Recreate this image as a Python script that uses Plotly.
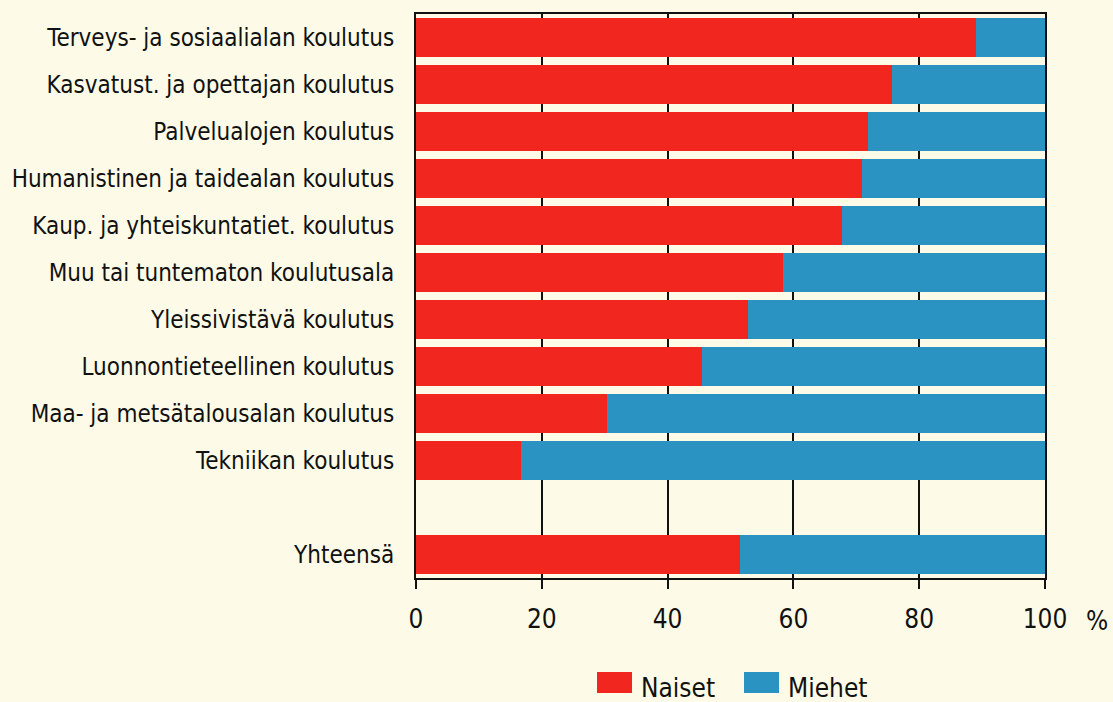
import plotly.graph_objects as go

categories = [
    "Terveys- ja sosiaalialan koulutus",
    "Kasvatust. ja opettajan koulutus",
    "Palvelualojen koulutus",
    "Humanistinen ja taidealan koulutus",
    "Kaup. ja yhteiskuntatiet. koulutus",
    "Muu tai tuntematon koulutusala",
    "Yleissivistävä koulutus",
    "Luonnontieteellinen koulutus",
    "Maa- ja metsätalousalan koulutus",
    "Tekniikan koulutus",
    "",
    "Yhteensä",
]
naiset = [89.0, 75.6, 71.9, 70.9, 67.7, 58.4, 52.8, 45.5, 30.4, 16.7, None, 51.5]
miehet = [None if v is None else round(100 - v, 1) for v in naiset]
x_ticks = [0, 20, 40, 60, 80, 100]

RED = "#f0261f"
BLUE = "#2a93c1"
BG = "#fdfbe7"
FONT = "DejaVu Sans Condensed, DejaVu Sans, sans-serif"

W, H = 1113, 702
L, R, T, B = 416, 68, 14, 124
PW, PH = W - L - R, H - T - B


def px(x):
    return (x - L) / PW


def py(y):
    return (H - B - y) / PH


pos = list(range(len(categories)))

fig = go.Figure()
fig.add_trace(go.Bar(y=pos, x=naiset, orientation="h", name="Naiset",
                     marker=dict(color=RED, line=dict(width=0)), showlegend=False))
fig.add_trace(go.Bar(y=pos, x=miehet, orientation="h", name="Miehet",
                     marker=dict(color=BLUE, line=dict(width=0)), showlegend=False))

fig.update_layout(
    barmode="stack",
    bargap=0.15,
    width=W, height=H,
    margin=dict(l=L, r=R, t=T, b=B),
    paper_bgcolor=BG, plot_bgcolor=BG,
    font=dict(family=FONT, size=24, color="#111111"),
)
fig.update_xaxes(
    range=[0, 100], tickvals=x_ticks, ticktext=[str(t) for t in x_ticks],
    showgrid=True, gridcolor="#111111", gridwidth=2,
    showline=True, linecolor="#111111", linewidth=2, mirror=True,
    ticks="outside", ticklen=9, tickwidth=2, tickcolor="#111111",
    tickfont=dict(size=26), ticklabelstandoff=8, zeroline=False, fixedrange=True,
    automargin=False,
)
fig.update_yaxes(
    range=[len(categories) - 0.5, -0.5], tickvals=pos, ticktext=categories,
    showgrid=False, showline=True, linecolor="#111111", linewidth=2, mirror=True,
    ticks="", ticklabelstandoff=15, zeroline=False, fixedrange=True,
    tickfont=dict(size=24), automargin=False,
)

fig.add_annotation(x=px(1084), y=py(621), xref="paper", yref="paper", text="%",
                   showarrow=False, xanchor="left", yanchor="middle",
                   font=dict(size=26))

# legend drawn as shapes + text
for rx0, rx1, tx, color, label in [(597, 632, 639, RED, "Naiset"),
                                   (744, 779, 786, BLUE, "Miehet")]:
    fig.add_shape(type="rect", xref="paper", yref="paper",
                  x0=px(rx0), x1=px(rx1), y0=py(693), y1=py(672),
                  fillcolor=color, line=dict(width=0))
    fig.add_annotation(x=px(tx), y=py(688), xref="paper", yref="paper",
                       text=label, showarrow=False, xanchor="left", yanchor="middle",
                       font=dict(size=26))

fig.write_html(
    "out.html",
    config={"displayModeBar": False, "staticPlot": True},
    post_script="document.body.style.margin='0';document.body.style.background='%s';"
                "document.documentElement.style.overflow='hidden';" % BG,
)
